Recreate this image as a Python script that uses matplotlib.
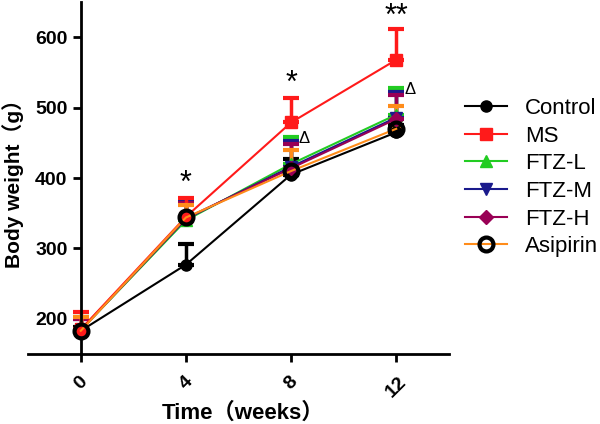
import numpy as np
import matplotlib.pyplot as plt

plt.rcParams['font.family'] = ['Liberation Sans', 'Noto Sans CJK SC', 'DejaVu Sans']

weeks = [0, 4, 8, 12]
groups = ['Control', 'MS', 'FTZ-L', 'FTZ-M', 'FTZ-H', 'Asipirin']
means = {
    'Control':  [183, 277, 405, 465],
    'MS':       [185, 345, 479, 568],
    'FTZ-L':    [184, 340, 420, 490],
    'FTZ-M':    [184, 342, 416, 486],
    'FTZ-H':    [184, 343, 414, 484],
    'Asipirin': [183, 344, 410, 470],
}
errs = {
    'Control':  [5, 30, 22, 10],
    'MS':       [25, 27, 35, 44],
    'FTZ-L':    [18, 24, 39, 38],
    'FTZ-M':    [16, 24, 36, 36],
    'FTZ-H':    [16, 22, 34, 34],
    'Asipirin': [20, 18, 30, 32],
}
colors = {'Control': 'black', 'MS': '#ff1a1a', 'FTZ-L': '#22cc22',
          'FTZ-M': '#1a1a8c', 'FTZ-H': '#990055', 'Asipirin': '#ff8c1a'}
markers = {'Control': 'o', 'MS': 's', 'FTZ-L': '^', 'FTZ-M': 'v',
           'FTZ-H': 'D', 'Asipirin': 'o'}

fig = plt.figure(figsize=(6, 4.24), dpi=100)
ax = fig.add_axes([0.047, 0.165, 0.701, 0.83])

order = ['Control', 'FTZ-L', 'FTZ-M', 'FTZ-H', 'MS', 'Asipirin']
handles = {}
for g in order:
    y = np.array(means[g])
    e = np.array(errs[g])
    ax.errorbar(weeks, y, yerr=[np.zeros_like(e), e], fmt='none',
                ecolor=colors[g], elinewidth=2.5, capsize=6, capthick=3, zorder=2)
    if g == 'Asipirin':
        h, = ax.plot(weeks, y, color=colors[g], lw=1.5, marker='o', ms=10,
                     mfc='none', mec='black', mew=3, zorder=4)
    else:
        ms = 8 if markers[g] != 'D' else 7
        h, = ax.plot(weeks, y, color=colors[g], lw=1.5, marker=markers[g],
                     ms=ms, mfc=colors[g], mec=colors[g], zorder=3)
    handles[g] = h

# significance marks
ax.text(4, 370, '*', ha='center', va='bottom', fontsize=22)
ax.text(8, 512, '*', ha='center', va='bottom', fontsize=22)
ax.text(12, 608, '**', ha='center', va='bottom', fontsize=22)
ax.text(8.3, 446, 'Δ', ha='left', va='bottom', fontsize=12)
ax.text(12.3, 515, 'Δ', ha='left', va='bottom', fontsize=12)

ax.set_xlim(-2, 14)
ax.set_ylim(150, 650)
ax.spines['left'].set_position(('data', 0))
ax.spines['top'].set_visible(False)
ax.spines['right'].set_visible(False)
for s in ['left', 'bottom']:
    ax.spines[s].set_linewidth(2)
ax.set_xticks(weeks)
ax.set_yticks([200, 300, 400, 500, 600])
ax.tick_params(width=2, length=6, labelsize=14)
ax.tick_params(axis='x', pad=8)
for t in ax.get_xticklabels():
    t.set_rotation(45)
    t.set_fontweight('bold')
    t.set_ha('center')
    t.set_va('top')
for t in ax.get_yticklabels():
    t.set_fontweight('bold')

fig.text(0.022, 0.58, 'Body weight（g）', rotation=90, ha='center', va='center',
         fontsize=15, fontweight='bold')
fig.text(0.405, 0.025, 'Time（weeks）', ha='center', va='center',
         fontsize=16, fontweight='bold')

ax.legend([handles[g] for g in groups], groups, loc='upper left',
          bbox_to_anchor=(0.76, 0.79), bbox_transform=fig.transFigure,
          frameon=False, fontsize=16, handlelength=1.9, labelspacing=0.3,
          handletextpad=0.8, borderaxespad=0)

fig.savefig('out.png', dpi=100)
